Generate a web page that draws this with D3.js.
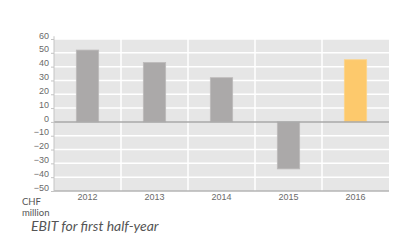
<!DOCTYPE html>
<html lang="en">
<head>
    <meta charset="UTF-8">
    <title>EBIT for first half-year</title>
    <script src="https://d3js.org/d3.v7.min.js"></script>
    <style>
        body { margin: 0; background: #fff; }
        svg { font-family: "Open Sans", "Noto Sans", sans-serif; }
        .tick text { fill: #6a6a6a; font-size: 9px; }
        .caption { font-family: Lato, "Open Sans", sans-serif; fill: #555; }
    </style>
</head>
<body>
    <div id="chart"></div>
    <script>
        // data
        const years = ['2012', '2013', '2014', '2015', '2016'];
        const ebit = [52, 43, 32, -34, 45];
        const yTicks = [60, 50, 40, 30, 20, 10, 0, -10, -20, -30, -40, -50];

        const width = 400, height = 248;
        const margin = { top: 39, right: 11, bottom: 57, left: 54 };
        const innerW = width - margin.left - margin.right;
        const innerH = height - margin.top - margin.bottom;

        const svg = d3.select('#chart').append('svg')
            .attr('width', width)
            .attr('height', height);

        const g = svg.append('g')
            .attr('transform', `translate(${margin.left},${margin.top})`);

        const x = d3.scaleBand().domain(years).range([0, innerW]);
        const y = d3.scaleLinear().domain([-50, 60]).range([innerH, 0]);

        // background
        g.append('rect')
            .attr('width', innerW)
            .attr('height', innerH)
            .attr('fill', '#e6e6e6');

        // horizontal grid
        g.append('g')
            .selectAll('line')
            .data(yTicks.filter(d => d !== 0 && d !== -50))
            .enter().append('line')
            .attr('x1', 0).attr('x2', innerW)
            .attr('y1', d => y(d)).attr('y2', d => y(d))
            .attr('stroke', '#fff')
            .attr('stroke-width', 1.5);

        // vertical grid between categories
        g.append('g')
            .selectAll('line')
            .data(years.slice(1))
            .enter().append('line')
            .attr('x1', d => x(d)).attr('x2', d => x(d))
            .attr('y1', 0).attr('y2', innerH)
            .attr('stroke', '#fff')
            .attr('stroke-width', 1.5);

        // bars
        const barW = x.bandwidth() / 3;
        g.append('g')
            .selectAll('rect')
            .data(years)
            .enter().append('rect')
            .attr('x', d => x(d) + (x.bandwidth() - barW) / 2)
            .attr('y', (d, i) => y(Math.max(0, ebit[i])))
            .attr('width', barW)
            .attr('height', (d, i) => Math.abs(y(ebit[i]) - y(0)))
            .attr('fill', d => d === '2016' ? '#fdc96c' : '#aba9a9')
            .attr('stroke', d => d === '2016' ? '#fdd58a' : '#bdbbbb')
            .attr('stroke-width', 0.8);

        // zero line
        g.append('line')
            .attr('x1', 0).attr('x2', innerW)
            .attr('y1', y(0)).attr('y2', y(0))
            .attr('stroke', '#a8a8a8')
            .attr('stroke-width', 1.5);

        // bottom line
        g.append('line')
            .attr('x1', 0).attr('x2', innerW)
            .attr('y1', innerH).attr('y2', innerH)
            .attr('stroke', '#b5b5b5')
            .attr('stroke-width', 1.5);

        // y axis
        const yAxis = g.append('g')
            .call(d3.axisLeft(y).tickValues(yTicks).tickSize(3).tickPadding(2));
        yAxis.select('.domain').attr('stroke', '#c4c4c4').attr('d', `M0,${y(62)}V${innerH}`);
        yAxis.selectAll('.tick line').attr('stroke', '#c4c4c4');
        yAxis.selectAll('.tick text').attr('dy', '-0.1em');

        // x axis
        const xAxis = g.append('g')
            .attr('transform', `translate(0,${innerH})`)
            .call(d3.axisBottom(x).tickSize(0).tickPadding(3));
        xAxis.select('.domain').remove();

        // unit label
        svg.append('text')
            .attr('class', 'caption')
            .attr('x', 22).attr('y', 205)
            .attr('font-size', 9.5)
            .text('CHF');
        svg.append('text')
            .attr('class', 'caption')
            .attr('x', 22).attr('y', 215.5)
            .attr('font-size', 9.5)
            .text('million');

        // title
        svg.append('text')
            .attr('class', 'caption')
            .attr('x', 31).attr('y', 230.5)
            .attr('font-size', 14)
            .attr('font-style', 'italic')
            .text('EBIT for first half-year');
    </script>
</body>
</html>
